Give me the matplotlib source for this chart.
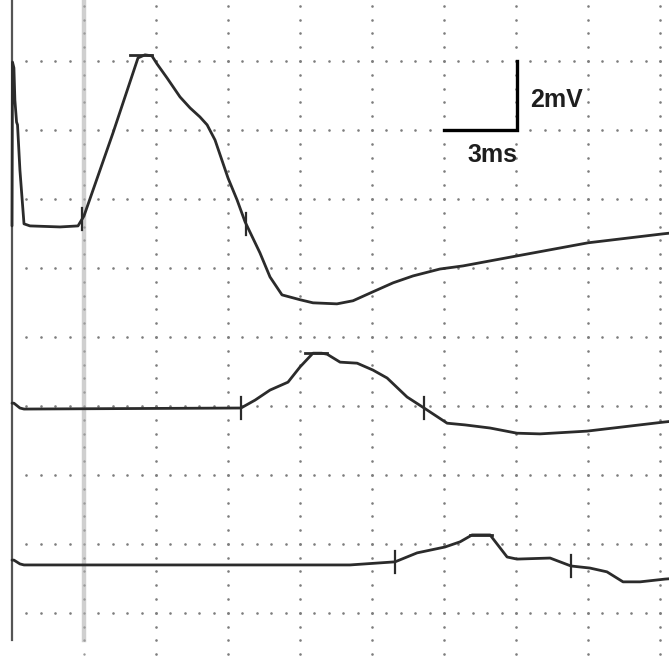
import numpy as np
import matplotlib
matplotlib.use("Agg")
import matplotlib.pyplot as plt

# time in ms, amplitude in mV relative to each trace's own baseline
t1 = [0, 0.02, 0.08, 0.12, 0.19, 0.23, 0.33, 0.5, 0.75, 2.0, 2.75, 3.0, 4.21, 5.25, 5.54,
      5.83, 6.04, 6.46, 7.0, 7.42, 7.83, 8.13, 8.46, 9.0, 9.38, 9.71, 10.33, 10.75, 11.25,
      12.0, 12.54, 13.54, 14.21, 15.04, 15.88, 16.71, 17.83, 18.79, 21.04, 24.0, 27.13, 27.4]
v1 = [0, 4.75, 4.58, 3.65, 3.01, 2.93, 1.62, 0.06, 0, -0.03, 0, 0.29, 2.70, 4.87, 4.96,
      4.93, 4.70, 4.29, 3.74, 3.42, 3.16, 2.93, 2.49, 1.39, 0.75, 0.12, -0.78, -1.48, -2.0,
      -2.14, -2.23, -2.26, -2.17, -1.91, -1.65, -1.45, -1.25, -1.16, -0.87, -0.49, -0.23, -0.21]

t2 = [0, 0.08, 0.33, 0.5, 9.54, 10.13, 10.75, 11.5, 12.0, 12.54, 12.9, 13.13, 13.67, 14.38,
      15.04, 15.63, 16.46, 17.17, 18.13, 18.88, 19.92, 21.04, 22.0, 23.96, 27.13, 27.4]
v2 = [0.17, 0.17, 0.03, 0, 0.03, 0.26, 0.55, 0.78, 1.22, 1.62, 1.62, 1.59, 1.36, 1.33,
      1.13, 0.90, 0.35, 0.03, -0.41, -0.46, -0.55, -0.70, -0.72, -0.64, -0.38, -0.36]

t3 = [0, 0.08, 0.33, 0.5, 14.08, 15.96, 16.88, 18.04, 18.67, 19.17, 19.92, 20.63, 21.04,
      22.42, 23.29, 24.08, 24.79, 25.46, 26.17, 27.21, 27.4]
v3 = [0.14, 0.14, 0.03, 0, 0, 0.09, 0.35, 0.52, 0.67, 0.87, 0.87, 0.23, 0.17,
      0.20, -0.03, -0.09, -0.20, -0.49, -0.49, -0.41, -0.40]

traces = [(t1, v1), (t2, v2), (t3, v3)]
baselines = [11.22, 5.91, 1.39]          # mV on the paper's vertical scale
onset_marks = [2.92, 9.54, 15.96]        # ms
end_marks = [9.75, 17.17, 23.29]         # ms
peak_marks = [5.38, 12.67, 19.54]        # ms

# grid: 3 ms and 2 mV per division
x_div = np.arange(0, 28, 3)
y_div = np.arange(0, 17, 2)

fig = plt.figure(figsize=(6.69, 6.56), dpi=100)
ax = fig.add_axes([0, 0, 1, 1])
xlim = (-0.5, 27.375)
ylim = (-1.25, 17.77)

# dotted graph-paper grid
for yv in y_div:
    xs = np.arange(0.6, xlim[1], 0.6)
    ax.scatter(xs, np.full_like(xs, yv), s=3.5, color="#7d7d7d", linewidths=0, zorder=1)
for xv in x_div[2:]:
    ys = np.arange(ylim[0] + 0.05, ylim[1], 0.4)
    ax.scatter(np.full_like(ys, xv), ys, s=3.5, color="#7d7d7d", linewidths=0, zorder=1)

# stimulus line and latency cursor
ax.plot([0, 0], [-0.78, ylim[1]], color="#555555", lw=1.6, zorder=2)
ax.plot([3, 3], [-0.78, ylim[1]], color="#cfcfcf", lw=3.2, zorder=2)
ys = np.arange(ylim[0] + 0.05, ylim[1], 0.4)
ax.scatter(np.full_like(ys, 3), ys, s=3, color="#9a9a9a", linewidths=0, zorder=2)

for (t, v), b, on, off, pk in zip(traces, baselines, onset_marks, end_marks, peak_marks):
    t = np.array(t)
    v = np.array(v) + b
    ax.plot(t, v, color="#2b2b2b", lw=2.0, solid_joinstyle="round",
            solid_capstyle="round", zorder=3)
    for m in (on, off):
        ym = np.interp(m, t, v)
        ax.plot([m, m], [ym - 0.32, ym + 0.32], color="#2b2b2b", lw=1.6, zorder=4)
    yp = v.max()
    ax.plot([pk - 0.46, pk + 0.46], [yp, yp], color="#2b2b2b", lw=2.0, zorder=4)

# calibration bar
ax.plot([18, 21.04, 21.04], [14, 14, 16], color="black", lw=2.4,
        solid_joinstyle="miter", zorder=5)
ax.text(21.6, 14.87, "2mV", fontsize=18, family="Liberation Sans", weight="bold",
        ha="left", va="center", color="#1e1e1e", zorder=5)
ax.text(20.0, 13.28, "3ms", fontsize=18, family="Liberation Sans", weight="bold",
        ha="center", va="center", color="#1e1e1e", zorder=5)

ax.set_xlim(*xlim)
ax.set_ylim(*ylim)
ax.axis("off")
fig.savefig("out.png", dpi=100, facecolor="white")
